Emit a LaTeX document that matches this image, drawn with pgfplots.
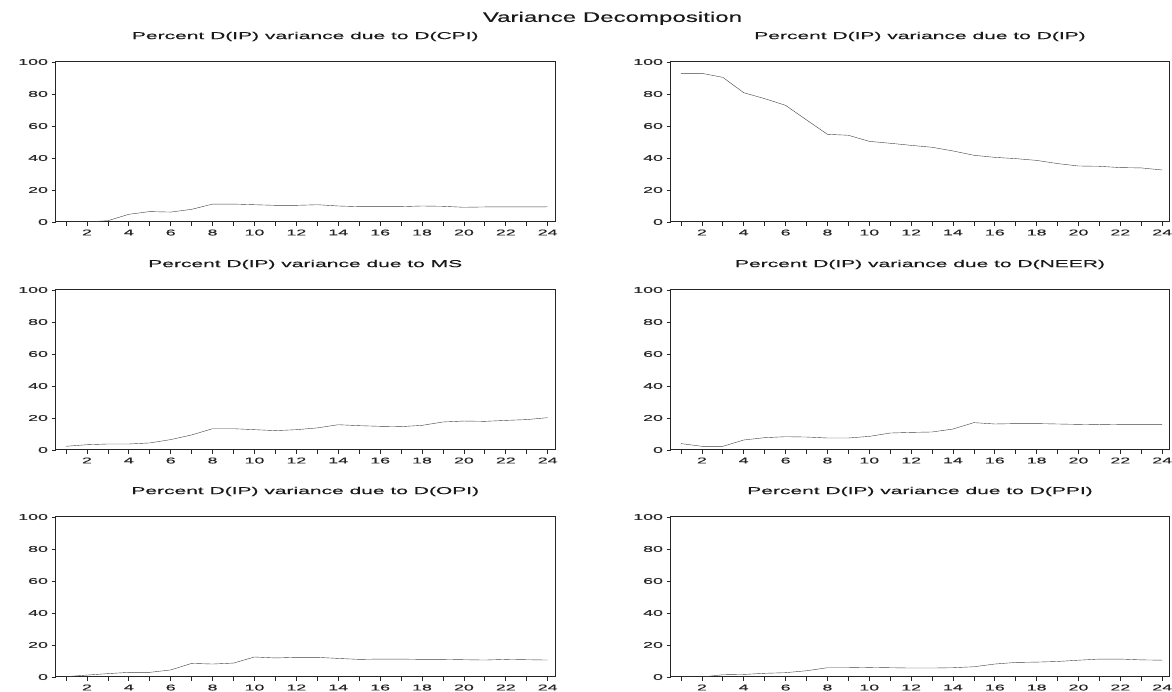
\documentclass[border=0pt]{standalone}
\usepackage{fontspec}
\setmainfont{Liberation Sans}[FakeStretch=2.1, FakeBold=0.4]
\newfontfamily\titlefont{Liberation Sans}[FakeStretch=1.72, FakeBold=0.4]
\usepackage{pgfplots}
\pgfplotsset{compat=1.18}
\begin{document}
\begin{tikzpicture}[x=1pt,y=1pt]
\useasboundingbox (0,0) rectangle (1172,692);
\pgfplotsset{vdpanel/.style={
  scale only axis, height=160pt, anchor=south west,
  xmin=0.5, xmax=24.35, ymin=0, ymax=100,
  xtick={1,...,24},
  xticklabels={,2,,4,,6,,8,,10,,12,,14,,16,,18,,20,,22,,24},
  ytick={0,20,...,100},
  tick align=outside, major tick length=4pt,
  tick pos=left,
  axis line style={line width=1pt, black!85},
  tick style={line width=0.7pt, black!85},
  tick label style={font=\fontsize{8.5}{9}\selectfont, text=black!85},
  /pgf/number format/assume math mode=true,
  title style={font=\fontsize{10}{12}\selectfont, text=black!90, at={(0.5,1)}, anchor=center, yshift=19.5pt},
  cycle list={{black!75, line width=1.1pt, mark=none}},
}}
\node[font=\titlefont\fontsize{14}{16}\selectfont, text=black!90] at (612.5,673.7) {Variance Decomposition};

% Row 1 left: D(CPI)
\begin{axis}[vdpanel, width=499.5pt, at={(55.5pt,470pt)}, title={Percent D(IP) variance due to D(CPI)}]
\addplot coordinates {(1,0) (2,0) (3,0.8) (4,4.8) (5,6.5) (6,6.2) (7,7.9) (8,11.2) (9,11.2) (10,10.8) (11,10.4) (12,10.4) (13,10.8) (14,10.0) (15,9.6) (16,9.6) (17,9.6) (18,10.0) (19,9.8) (20,9.2) (21,9.4) (22,9.4) (23,9.4) (24,9.5)};
\end{axis}

% Row 1 right: D(IP)
\begin{axis}[vdpanel, width=499pt, at={(670.5pt,470pt)}, title={Percent D(IP) variance due to D(IP)}]
\addplot coordinates {(1,92.9) (2,92.9) (3,90.4) (4,80.8) (5,77.1) (6,72.9) (7,63.8) (8,54.8) (9,54.2) (10,50.4) (11,49.2) (12,47.9) (13,46.7) (14,44.4) (15,41.7) (16,40.4) (17,39.6) (18,38.5) (19,36.5) (20,35.0) (21,34.8) (22,34.0) (23,33.8) (24,32.5)};
\end{axis}

% Row 2 left: MS
\begin{axis}[vdpanel, width=499.5pt, at={(55.5pt,242pt)}, title={Percent D(IP) variance due to MS}]
\addplot coordinates {(1,2.3) (2,3.3) (3,3.75) (4,3.75) (5,4.4) (6,6.5) (7,9.4) (8,13.3) (9,13.3) (10,12.7) (11,12.1) (12,12.7) (13,13.8) (14,15.8) (15,15.2) (16,14.8) (17,14.6) (18,15.4) (19,17.5) (20,18.1) (21,17.9) (22,18.5) (23,19.0) (24,20.2)};
\end{axis}

% Row 2 right: D(NEER)
\begin{axis}[vdpanel, width=499pt, at={(670.5pt,242pt)}, title={Percent D(IP) variance due to D(NEER)}]
\addplot coordinates {(1,4.0) (2,2.3) (3,2.3) (4,6.25) (5,7.7) (6,8.3) (7,8.1) (8,7.5) (9,7.5) (10,8.5) (11,10.6) (12,11.0) (13,11.25) (14,13.1) (15,17.1) (16,16.25) (17,16.5) (18,16.5) (19,16.25) (20,16.0) (21,15.8) (22,16.0) (23,16.0) (24,16.0)};
\end{axis}

% Row 3 left: D(OPI)
\begin{axis}[vdpanel, width=499.5pt, at={(55.5pt,15pt)}, title={Percent D(IP) variance due to D(OPI)}]
\addplot coordinates {(1,0.2) (2,1.2) (3,2.1) (4,2.9) (5,2.9) (6,4.4) (7,8.5) (8,8.1) (9,8.7) (10,12.5) (11,11.9) (12,12.3) (13,12.3) (14,11.6) (15,11.0) (16,11.2) (17,11.2) (18,11.0) (19,11.0) (20,10.8) (21,10.6) (22,11.0) (23,10.8) (24,10.6)};
\end{axis}

% Row 3 right: D(PPI)
\begin{axis}[vdpanel, width=499pt, at={(670.5pt,15pt)}, title={Percent D(IP) variance due to D(PPI)}]
\addplot coordinates {(1,0) (2,0) (3,1.4) (4,1.6) (5,2.3) (6,2.7) (7,3.9) (8,5.8) (9,5.8) (10,6.0) (11,5.8) (12,5.6) (13,5.6) (14,5.8) (15,6.4) (16,8.1) (17,9.1) (18,9.3) (19,9.7) (20,10.5) (21,11.2) (22,11.2) (23,10.7) (24,10.5)};
\end{axis}
\end{tikzpicture}
\end{document}
